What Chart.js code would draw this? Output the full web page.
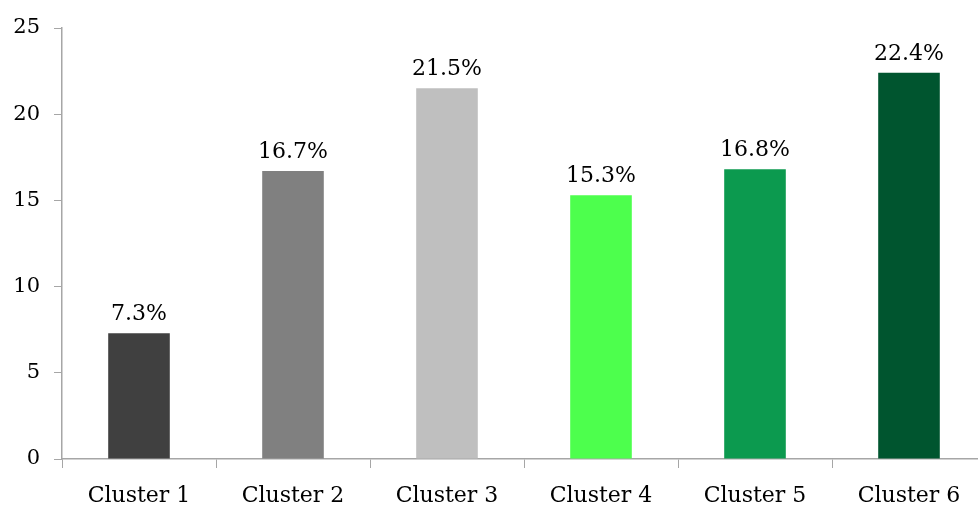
<!DOCTYPE html>
<html>
<head>
<meta charset="utf-8">
<script src="https://cdn.jsdelivr.net/npm/chart.js@4/dist/chart.umd.min.js"></script>
<style>
  html, body { margin: 0; padding: 0; background: #fff; overflow: hidden; }
  #wrap { width: 992px; height: 507px; }
</style>
</head>
<body>
<div id="wrap"><canvas id="mychart" width="992" height="507"></canvas></div>
<script>
// categories and values
var clusters = ['Cluster 1', 'Cluster 2', 'Cluster 3', 'Cluster 4', 'Cluster 5', 'Cluster 6']
var shares = [7.3, 16.7, 21.5, 15.3, 16.8, 22.4]
var barColors = ['#404040', '#808080', '#bfbfbf', '#4dff4d', '#0c9a4f', '#00552f']
var yTicks = [0, 5, 10, 15, 20, 25]

var FONT = 'DejaVu Serif'

// label above each bar
var valueLabels = {
    id: 'valueLabels',
    afterDatasetsDraw(chart) {
        var ctx = chart.ctx
        var meta = chart.getDatasetMeta(0)
        ctx.save()
        ctx.font = '22px "' + FONT + '"'
        ctx.fillStyle = '#000'
        ctx.textAlign = 'center'
        ctx.textBaseline = 'bottom'
        meta.data.forEach(function (bar, i) {
            ctx.fillText(shares[i].toFixed(1) + '%', bar.x, bar.y - 8)
        })
        ctx.restore()
    }
}

var ctx = document.getElementById('mychart').getContext('2d')
var barchart = new Chart(ctx, {
    type: 'bar',
    data: {
        labels: clusters,
        datasets: [{
            data: shares,
            backgroundColor: barColors,
            borderWidth: 0,
            barPercentage: 0.4,
            categoryPercentage: 1.0
        }]
    },
    options: {
        responsive: false,
        animation: false,
        layout: { padding: { top: 28, right: 6, left: 0, bottom: 0 } },
        plugins: {
            legend: { display: false },
            tooltip: { enabled: false }
        },
        scales: {
            x: {
                offset: true,
                grid: {
                    offset: true,
                    drawOnChartArea: false,
                    drawTicks: true,
                    tickLength: 9,
                    color: '#a6a6a6'
                },
                border: { color: '#a6a6a6', width: 1.5 },
                ticks: {
                    color: '#000',
                    padding: 15,
                    font: { family: FONT, size: 22 }
                },
                afterFit: function (scale) { scale.height = 48 }
            },
            y: {
                min: 0,
                max: 25,
                afterBuildTicks: function (scale) {
                    scale.ticks = yTicks.map(function (v) { return { value: v } })
                },
                grid: {
                    drawOnChartArea: false,
                    drawTicks: true,
                    tickLength: 8,
                    color: '#a6a6a6'
                },
                border: { color: '#a6a6a6', width: 1.5 },
                ticks: {
                    color: '#000',
                    padding: 14,
                    font: { family: FONT, size: 21 }
                },
                afterFit: function (scale) { scale.width = 62 }
            }
        }
    },
    plugins: [valueLabels]
})
</script>
</body>
</html>
